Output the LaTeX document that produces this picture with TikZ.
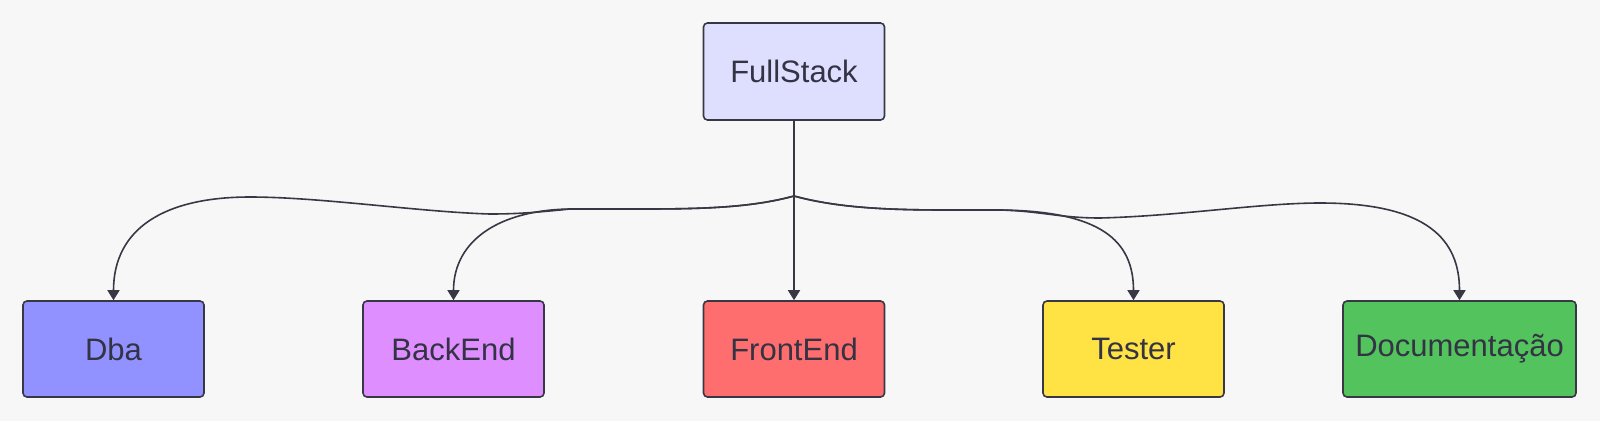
\documentclass[tikz,border=0pt]{standalone}
\usepackage{fontspec}
\setmainfont{Liberation Sans}
\usetikzlibrary{arrows.meta}
\definecolor{bg}{HTML}{F7F7F8}
\definecolor{edge}{HTML}{383844}
\definecolor{txt}{HTML}{333344}
\definecolor{cfs}{HTML}{DEDEFF}
\definecolor{cdba}{HTML}{9191FF}
\definecolor{cbe}{HTML}{DF8EFF}
\definecolor{cfe}{HTML}{FF6E6E}
\definecolor{cte}{HTML}{FFE244}
\definecolor{cdoc}{HTML}{53C35E}
\begin{document}
\begin{tikzpicture}[x=1pt,y=-1pt,
  box/.style={draw=edge, line width=1.6pt, rounded corners=4pt, minimum width=181pt, minimum height=96pt, inner sep=0pt, font=\fontsize{31}{37}\selectfont, text=txt},
  conn/.style={draw=edge, line width=1.6pt, -{Triangle[length=10pt,width=12pt]}}]
\fill[bg] (0,0) rectangle (1600,421);
\useasboundingbox (0,0) rectangle (1600,421);
\node[box, fill=cfs, minimum height=97pt] (fs) at (794,71.5) {FullStack};
\node[box, fill=cdba] (dba) at (113.5,349) {Dba};
\node[box, fill=cbe] (be) at (453.5,349) {BackEnd};
\node[box, fill=cfe] (fe) at (794,349) {FrontEnd};
\node[box, fill=cte] (te) at (1133.5,349) {Tester};
\node[box, fill=cdoc, minimum width=233pt] (doc) at (1459.5,349) {Documentação};
\coordinate (j) at (794,196);
\draw[conn] (fs.south) -- (fe.north);
\draw[conn] (fs.south) -- (j) .. controls (750,208) and (700,209) .. (640,209) -- (570,209) .. controls (500,210) and (453.5,240) .. (be.north);
\draw[conn] (fs.south) -- (j) .. controls (750,208) and (700,209) .. (640,209) -- (570,209) .. controls (540,212) and (520,214) .. (490,214) .. controls (420,212) and (320,197) .. (250,197) .. controls (165,197) and (113.5,228) .. (dba.north);
\draw[conn] (fs.south) -- (j) .. controls (838,208) and (888,210) .. (948,210) -- (1000,210) .. controls (1100,211) and (1133.5,240) .. (te.north);
\draw[conn] (fs.south) -- (j) .. controls (838,208) and (888,210) .. (948,210) -- (1000,210) .. controls (1040,211) and (1060,218) .. (1100,218) .. controls (1180,216) and (1260,203) .. (1320,203) .. controls (1428,203) and (1459.5,240) .. (doc.north);
\end{tikzpicture}
\end{document}
